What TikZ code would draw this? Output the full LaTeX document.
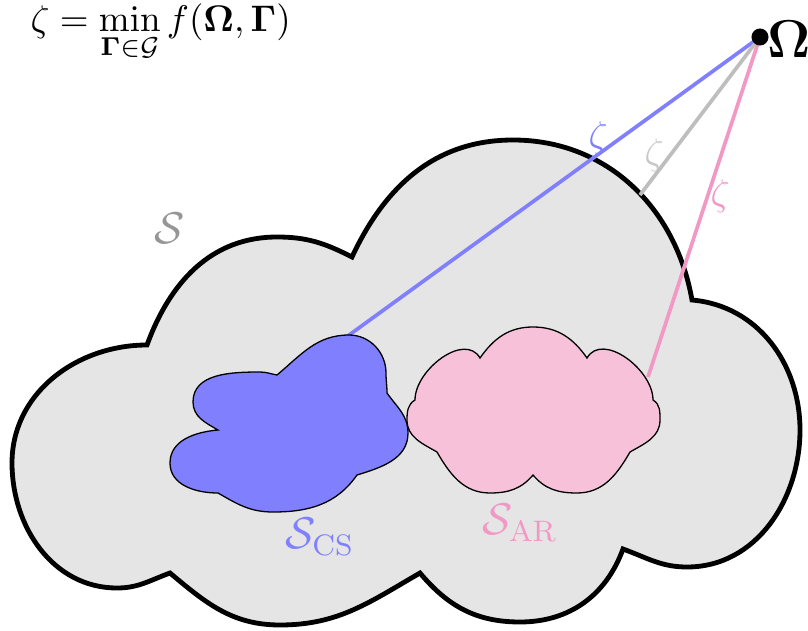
\documentclass[tikz,border=0pt]{standalone}
\usepackage{amsmath,amssymb}
\definecolor{cloudgray}{gray}{0.9}
\definecolor{csblue}{RGB}{128,128,255}
\definecolor{arpink}{RGB}{247,193,218}
\definecolor{arline}{RGB}{242,152,197}
\definecolor{zline}{RGB}{190,190,190}
\definecolor{zlabgray}{RGB}{200,200,200}
\definecolor{sgray}{RGB}{150,150,150}
\tikzset{
  bigcloud/.style={fill=cloudgray, draw=black, line width=1.3pt},
  blob/.style={draw=black, line width=0.35pt},
  link/.style={line width=1pt},
  zlab/.style={font=\normalsize, inner sep=0pt},
  setlab/.style={font=\large, inner sep=0pt},
}
\begin{document}
\begin{tikzpicture}[x=0.27pt,y=0.27pt]
\useasboundingbox (0,0) rectangle (808,630);
% big cloud S
\draw[bigcloud] (147,285) to[out=70,in=180] (277,393) to[out=0,in=153] (352,373)
  to[out=65,in=180] (513,490) to[out=0,in=100] (692,330)
  to[out=-5,in=90] (800,200) to[out=-90,in=0] (687,63) to[out=180,in=-20] (623,81)
  to[out=-110,in=0] (520,8) to[out=180,in=-50] (420,57)
  to[out=-150,in=0] (280,5) to[out=180,in=-40] (170,57)
  to[out=-160,in=0] (117,42) to[out=180,in=-90] (12,167) to[out=90,in=180] (147,285) -- cycle;
% point Omega and end points
\coordinate (O) at (760,593);
\coordinate (cs) at (345,292);
\coordinate (sb) at (640,435);
\coordinate (ar) at (648,253);
% connectors
\draw[link, csblue] (O) -- (cs);
\draw[link, zline] (O) -- (sb);
\draw[link, arline] (O) -- (ar);
% blue blob S_CS
\draw[blob, fill=csblue] (277,255) to[out=40,in=180] (349,295) to[out=0,in=90] (386,257)
  to[out=-90,in=90] (387,237)
  to[out=-55,in=90] (408,197) to[out=-90,in=17] (357,155)
  to[out=-125,in=0] (273,118) to[out=180,in=-30] (218,137)
  to[out=180,in=-90] (170,167) to[out=90,in=185] (218,200)
  to[out=150,in=-90] (193,228) to[out=90,in=180] (260,258) to[out=0,in=170] (277,255) -- cycle;
% pink cloud S_AR
\draw[blob, fill=arpink] (480,272) to[out=55,in=180] (533,303) to[out=0,in=125] (587,272)
  to[out=60,in=90] (653,230)
  to[out=-30,in=90] (660,210) to[out=-90,in=30] (630,178)
  to[out=-120,in=0] (577,137) to[out=180,in=-50] (533,155)
  to[out=-130,in=0] (490,137) to[out=180,in=-60] (437,178)
  to[out=150,in=-90] (407,210) to[out=90,in=-150] (415,230)
  to[out=90,in=120] (480,272) -- cycle;
% Omega dot
\node[circle, fill=black, inner sep=0pt, minimum size=4.6pt] (dot) at (O) {};
\node[anchor=west, inner sep=0pt, font=\Large] (Olab) at (767,591) {$\mathbf{\Omega}$};
% zeta labels
\node[zlab, text=csblue] (z1) at (598,492) {$\zeta$};
\node[zlab, text=zlabgray] (z2) at (654,475) {$\zeta$};
\node[zlab, text=arline] (z3) at (720,434) {$\zeta$};
% set labels
\node[setlab, text=sgray] (S) at (170,402) {$\mathcal{S}$};
\node[setlab, text=csblue] (Scs) at (320,93) {$\mathcal{S}_{\mathrm{CS}}$};
\node[setlab, text=arline] (Sar) at (520,107) {$\mathcal{S}_{\mathrm{AR}}$};
% formula
\node[anchor=west, inner sep=0pt] (F) at (30,597) {$\zeta = \min\limits_{\mathbf{\Gamma}\in\mathcal{G}} f(\mathbf{\Omega},\mathbf{\Gamma})$};
\end{tikzpicture}
\end{document}
